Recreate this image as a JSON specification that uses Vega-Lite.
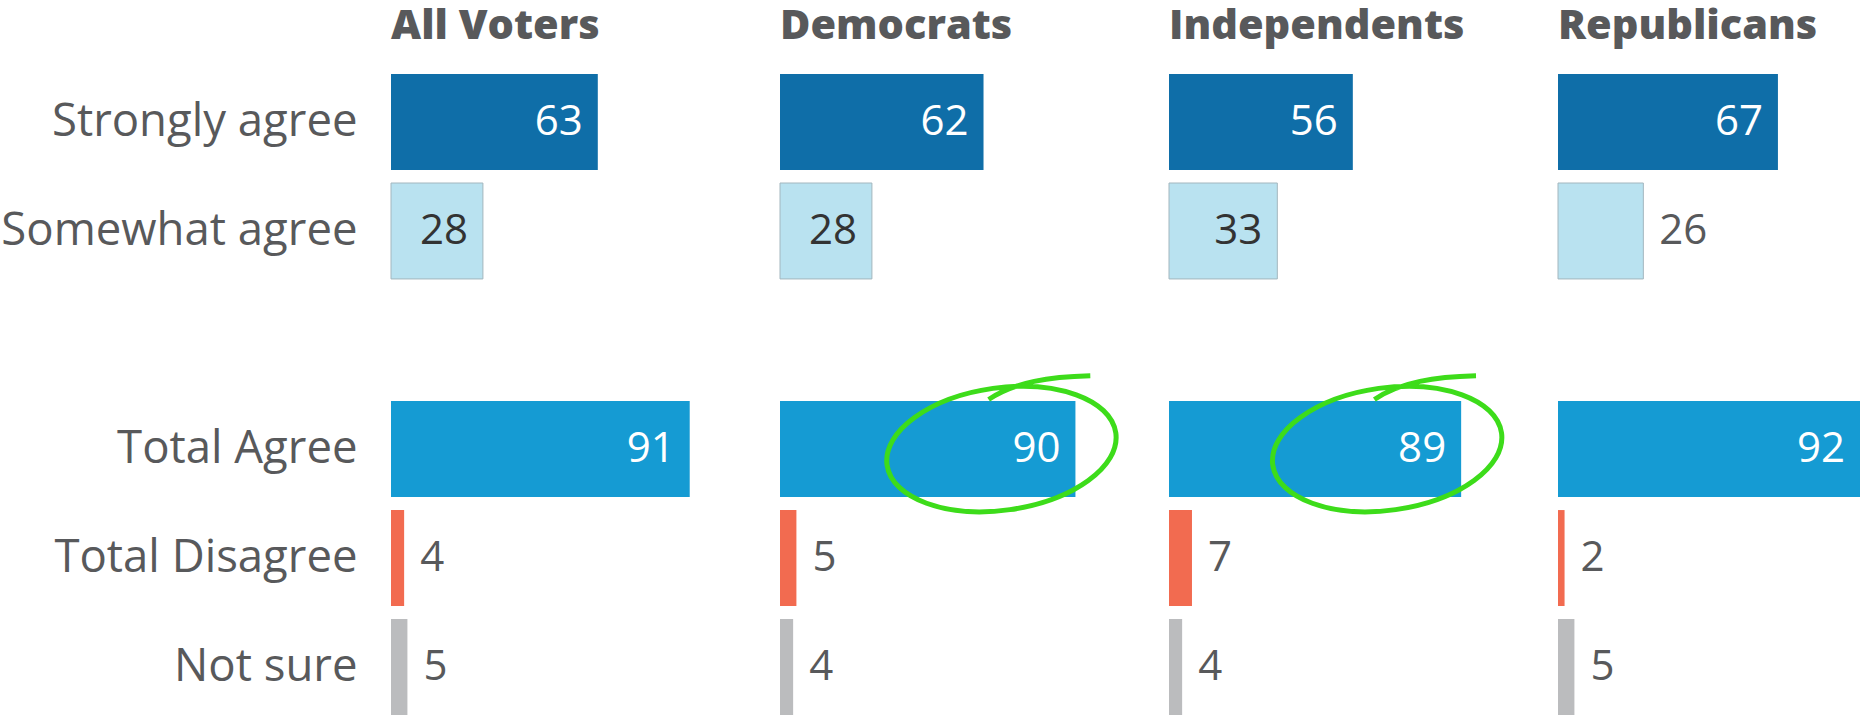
{
  "$schema": "https://vega.github.io/schema/vega-lite/v6.json",
  "padding": {"left": 0, "top": 5, "right": 0, "bottom": 0},
  "background": "white",
  "bounds": "flush",
  "data": {"values": [
    {"group": "All Voters", "answer": "Strongly agree", "value": 63},
    {"group": "All Voters", "answer": "Somewhat agree", "value": 28},
    {"group": "All Voters", "answer": "Total Agree", "value": 91},
    {"group": "All Voters", "answer": "Total Disagree", "value": 4},
    {"group": "All Voters", "answer": "Not sure", "value": 5},
    {"group": "Democrats", "answer": "Strongly agree", "value": 62},
    {"group": "Democrats", "answer": "Somewhat agree", "value": 28},
    {"group": "Democrats", "answer": "Total Agree", "value": 90},
    {"group": "Democrats", "answer": "Total Disagree", "value": 5},
    {"group": "Democrats", "answer": "Not sure", "value": 4},
    {"group": "Independents", "answer": "Strongly agree", "value": 56},
    {"group": "Independents", "answer": "Somewhat agree", "value": 33},
    {"group": "Independents", "answer": "Total Agree", "value": 89},
    {"group": "Independents", "answer": "Total Disagree", "value": 7},
    {"group": "Independents", "answer": "Not sure", "value": 4},
    {"group": "Republicans", "answer": "Strongly agree", "value": 67},
    {"group": "Republicans", "answer": "Somewhat agree", "value": 26},
    {"group": "Republicans", "answer": "Total Agree", "value": 92},
    {"group": "Republicans", "answer": "Total Disagree", "value": 2},
    {"group": "Republicans", "answer": "Not sure", "value": 5}
  ]},
  "facet": {
    "column": {
      "field": "group", "type": "nominal",
      "sort": ["All Voters", "Democrats", "Independents", "Republicans"],
      "header": {
        "title": null,
        "labelFont": "Open Sans", "labelFontSize": 41.5, "labelFontWeight": 800,
        "labelColor": "#58595b", "labelAnchor": "start", "labelAlign": "left",
        "labelBaseline": "alphabetic", "labelPadding": -6
      }
    }
  },
  "spacing": {"column": 87},
  "spec": {
    "width": 302,
    "height": 641,
    "encoding": {
      "y": {
        "field": "answer", "type": "nominal",
        "scale": {"domain": ["Strongly agree", "Somewhat agree", " ", "Total Agree", "Total Disagree", "Not sure"], "paddingInner": 0.12, "paddingOuter": 0},
        "axis": {"title": null, "domain": false, "ticks": false, "labelPadding": 34, "labelFont": "Open Sans", "labelFontSize": 45.5, "labelColor": "#58595b", "labelLimit": 500}
      }
    },
    "layer": [
      {
        "mark": {"type": "bar", "stroke": "#a3b6be"},
        "encoding": {
          "x": {"field": "value", "type": "quantitative", "scale": {"domain": [0, 92], "nice": false}, "axis": null},
          "color": {"field": "answer", "type": "nominal", "legend": null,
            "scale": {"domain": ["Strongly agree", "Somewhat agree", "Total Agree", "Total Disagree", "Not sure"],
                      "range": ["#0f6ea8", "#b9e2f0", "#159bd3", "#f26b50", "#bbbcbe"]}},
          "strokeWidth": {"condition": {"test": "datum.answer === 'Somewhat agree'", "value": 1}, "value": 0}
        }
      },
      {
        "transform": [{"filter": "datum.value >= 27"}],
        "mark": {"type": "text", "align": "right", "dx": -15, "baseline": "middle", "font": "Open Sans", "fontSize": 42},
        "encoding": {
          "x": {"field": "value", "type": "quantitative"},
          "text": {"field": "value", "type": "quantitative"},
          "color": {"condition": {"test": "datum.answer === 'Somewhat agree'", "value": "#333333"}, "value": "white"}
        }
      },
      {
        "transform": [{"filter": "datum.value < 27"}],
        "mark": {"type": "text", "align": "left", "dx": 16, "baseline": "middle", "font": "Open Sans", "fontSize": 42, "color": "#58595b"},
        "encoding": {
          "x": {"field": "value", "type": "quantitative"},
          "text": {"field": "value", "type": "quantitative"}
        }
      },
      {
        "transform": [{"filter": "datum.answer === 'Total Agree' && (datum.group === 'Democrats' || datum.group === 'Independents')"}],
        "mark": {"type": "point", "shape": "M -1 0 A 1 0.53 0 1 1 1 0 A 1 0.53 0 1 1 -1 0 M -0.05 -0.44 C 0.2 -0.56 0.5 -0.56 0.85 -0.52",
                 "filled": false, "stroke": "#3ddc1a", "strokeWidth": 5, "size": 53361, "angle": -8, "xOffset": -74, "opacity": 1},
        "encoding": {
          "x": {"field": "value", "type": "quantitative"}
        }
      }
    ]
  },
  "config": {"view": {"stroke": null}}
}
